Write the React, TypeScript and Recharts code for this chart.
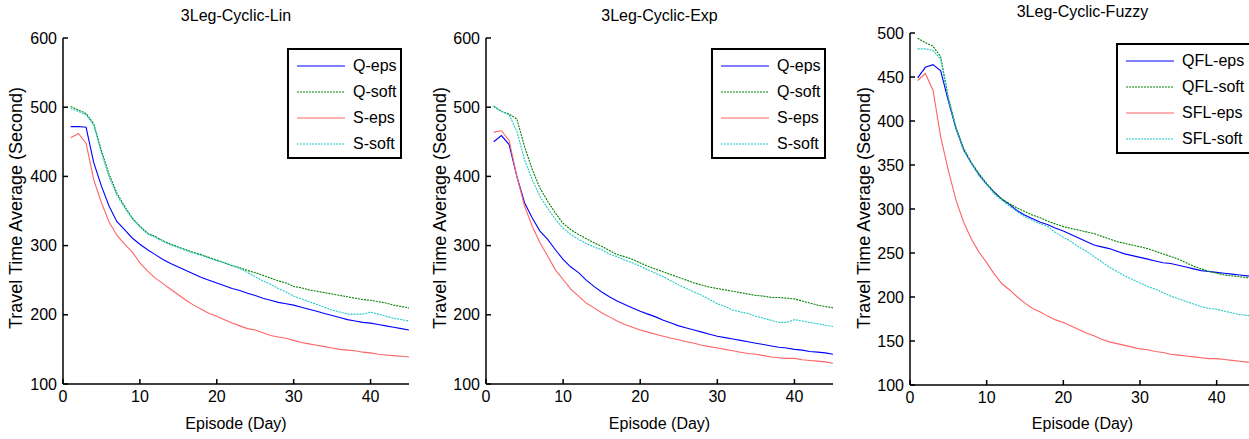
import React from 'react';
import { LineChart, Line, XAxis, YAxis, Legend } from 'recharts';

const FONT = '"Liberation Sans", Arial, Helvetica, sans-serif';

const episodes = [
  1, 2, 3, 4, 5, 6, 7, 8, 9, 10, 11, 12, 13, 14, 15, 16, 17, 18, 19, 20, 21, 22, 23,
  24, 25, 26, 27, 28, 29, 30, 31, 32, 33, 34, 35, 36, 37, 38, 39, 40, 41, 42, 43, 44, 45,
];

// 3Leg-Cyclic-Lin
const linQEps = [
  472, 472, 471, 420, 386, 357, 335, 323, 311, 302, 294, 287, 280, 274, 269, 264, 259, 254, 250, 246,
  242, 238, 235, 231, 228, 224, 221, 218, 216, 214, 211, 208, 205, 202, 199, 196, 193, 191, 189, 188,
  186, 184, 182, 180, 178,
];
const linQSoft = [
  501, 496, 491, 476, 437, 403, 376, 357, 340, 328, 318, 313, 307, 302, 298, 294, 290, 287, 283, 279,
  275, 271, 268, 264, 261, 257, 253, 249, 246, 241, 239, 236, 234, 232, 230, 228, 226, 224, 222, 221,
  219, 217, 214, 212, 210,
];
const linSEps = [
  456, 462, 448, 395, 362, 334, 315, 302, 291, 275, 263, 253, 245, 237, 229, 221, 214, 208, 202, 198,
  193, 188, 184, 180, 178, 174, 170, 168, 166, 163, 160, 158, 156, 154, 152, 150, 149, 148, 146, 145,
  143, 142, 141, 140, 139,
];
const linSSoft = [
  498, 494, 489, 474, 434, 399, 373, 355, 339, 327, 317, 312, 306, 301, 297, 293, 289, 286, 282, 278,
  275, 271, 267, 261, 255, 249, 244, 238, 233, 227, 223, 219, 215, 211, 207, 204, 201, 201, 201, 204,
  201, 198, 195, 193, 191,
];

// 3Leg-Cyclic-Exp
const expQEps = [
  450, 459, 446, 400, 362, 340, 321, 309, 294, 280, 269, 261, 250, 241, 233, 226, 220, 215, 210, 205,
  201, 197, 192, 188, 184, 181, 178, 175, 172, 169, 167, 165, 163, 161, 159, 157, 155, 153, 152, 150,
  149, 147, 146, 145, 143,
];
const expQSoft = [
  501, 494, 490, 483, 443, 410, 383, 364, 347, 332, 323, 316, 310, 304, 299, 293, 287, 284, 280, 275,
  270, 266, 262, 258, 254, 250, 246, 243, 240, 238, 236, 234, 232, 230, 228, 227, 225, 225, 224, 223,
  220, 217, 214, 212, 210,
];
const expSEps = [
  464, 466, 452, 400, 357, 328, 304, 285, 265, 251, 237, 227, 217, 210, 203, 197, 191, 186, 182, 178,
  175, 172, 169, 166, 164, 161, 159, 156, 154, 152, 150, 148, 146, 144, 143, 141, 139, 138, 137, 137,
  135, 134, 133, 132, 130,
];
const expSSoft = [
  502, 494, 489, 465, 424, 395, 371, 354, 338, 325, 316, 309, 303, 298, 294, 288, 284, 279, 275, 270,
  265, 260, 255, 249, 243, 238, 233, 228, 222, 216, 212, 207, 204, 202, 198, 195, 192, 189, 189, 193,
  191, 189, 187, 185, 183,
];

// 3Leg-Cyclic-Fuzzy
const fuzQEps = [
  449, 461, 464, 457, 423, 391, 367, 352, 339, 328, 319, 311, 305, 298, 293, 289, 285, 282, 278, 275,
  271, 267, 263, 259, 257, 255, 252, 249, 247, 245, 243, 241, 239, 238, 236, 234, 232, 230, 229, 228,
  227, 226, 225, 224, 223,
];
const fuzQSoft = [
  494, 489, 485, 473, 427, 393, 369, 353, 340, 329, 319, 311, 306, 301, 297, 293, 290, 286, 283, 280,
  278, 276, 274, 272, 269, 266, 263, 261, 259, 257, 255, 252, 249, 246, 243, 239, 235, 232, 229, 227,
  225, 224, 223, 222, 221,
];
const fuzSEps = [
  446, 454, 435, 382, 344, 310, 285, 266, 251, 239, 226, 215, 208, 200, 193, 187, 183, 178, 174, 171,
  167, 163, 159, 156, 152, 149, 147, 145, 143, 141, 140, 138, 137, 135, 134, 133, 132, 131, 130, 130,
  129, 128, 127, 126, 125,
];
const fuzSSoft = [
  482, 482, 480, 470, 425, 392, 367, 352, 338, 328, 317, 310, 303, 297, 291, 287, 283, 280, 273, 268,
  263, 257, 252, 246, 240, 234, 229, 224, 220, 216, 212, 209, 205, 201, 198, 195, 192, 189, 187, 186,
  184, 182, 180, 179, 178,
];

const xTicks = [0, 10, 20, 30, 40];
const yTicks600 = [100, 200, 300, 400, 500, 600];
const yTicks500 = [100, 150, 200, 250, 300, 350, 400, 450, 500];

const linNames = ['Q-eps', 'Q-soft', 'S-eps', 'S-soft'];
const fuzNames = ['QFL-eps', 'QFL-soft', 'SFL-eps', 'SFL-soft'];

// line styles, same order as the names
const styles = [
  { color: '#0000ff', dash: undefined },
  { color: '#008000', dash: '2 1' },
  { color: '#ff6464', dash: undefined },
  { color: '#22c8c8', dash: '2 1' },
];

function buildRows(series: number[][]) {
  return episodes.map((ep, i) => ({
    ep,
    s0: series[0][i],
    s1: series[1][i],
    s2: series[2][i],
    s3: series[3][i],
  }));
}

function BoxLegend(props: any) {
  const { payload } = props;
  return (
    <div
      style={{
        border: '2px solid #000',
        background: '#fff',
        boxSizing: 'border-box',
        height: 111,
        paddingTop: 3,
        fontFamily: FONT,
        fontSize: 16,
      }}
    >
      {(payload || []).map((entry: any, i: number) => (
        <div key={i} style={{ display: 'flex', alignItems: 'center', height: 26 }}>
          <svg width={58} height={10} style={{ flex: 'none' }}>
            <line
              x1={8}
              x2={56}
              y1={5}
              y2={5}
              stroke={entry.color}
              strokeWidth={1.2}
              strokeDasharray={styles[i].dash}
            />
          </svg>
          <span style={{ marginLeft: 6, whiteSpace: 'nowrap', color: '#000' }}>{entry.value}</span>
        </div>
      ))}
    </div>
  );
}

type PanelProps = {
  left: number;
  title: string;
  titleY: number;
  names: string[];
  series: number[][];
  yMax: number;
  yTicks: number[];
  yAxisW: number;
  marginRight: number;
  top: number;
  bottom: number;
  legendLeft: number;
  legendTop: number;
  legendWidth: number;
  yLabelX: number;
};

function Panel(p: PanelProps) {
  const W = 420;
  const H = 439;
  const rows = buildRows(p.series);
  const axisStyle = { stroke: '#000', strokeWidth: 1.5 };
  const plotLeft = p.left + p.yAxisW;
  const plotRight = p.left + W - p.marginRight;
  const cx = (plotLeft + plotRight) / 2;
  return (
    <>
      <div
        style={{
          position: 'absolute',
          left: cx,
          top: p.titleY,
          transform: 'translate(-50%, -50%)',
          fontFamily: FONT,
          fontSize: 16,
          whiteSpace: 'nowrap',
        }}
      >
        {p.title}
      </div>
      <div style={{ position: 'absolute', left: p.left, top: 0 }}>
        <LineChart
          width={W}
          height={H}
          data={rows}
          margin={{ top: p.top, right: p.marginRight, bottom: H - p.bottom - 30, left: 0 }}
        >
          <XAxis
            dataKey="ep"
            type="number"
            domain={[0, 45]}
            ticks={xTicks}
            allowDataOverflow
            height={30}
            axisLine={axisStyle}
            tickLine={axisStyle}
            tickSize={-5}
            tickMargin={12}
            tick={{ fill: '#000', fontSize: 16, fontFamily: FONT }}
          />
          <XAxis
            xAxisId="top"
            orientation="top"
            type="number"
            domain={[0, 45]}
            ticks={xTicks}
            allowDataOverflow
            height={0}
            axisLine={axisStyle}
            tickLine={axisStyle}
            tickSize={-5}
            tick={false}
          />
          <YAxis
            type="number"
            domain={[100, p.yMax]}
            ticks={p.yTicks}
            allowDataOverflow
            width={p.yAxisW}
            axisLine={axisStyle}
            tickLine={axisStyle}
            tickSize={-5}
            tickMargin={11}
            tick={{ fill: '#000', fontSize: 16, fontFamily: FONT }}
          />
          <YAxis
            yAxisId="right"
            orientation="right"
            type="number"
            domain={[100, p.yMax]}
            ticks={p.yTicks}
            allowDataOverflow
            width={0}
            axisLine={axisStyle}
            tickLine={axisStyle}
            tickSize={-5}
            tick={false}
          />
          <Legend
            layout="vertical"
            align="center"
            verticalAlign="middle"
            wrapperStyle={{
              position: 'absolute',
              left: p.legendLeft,
              top: p.legendTop,
              width: p.legendWidth,
              right: 'auto',
              bottom: 'auto',
            }}
            content={<BoxLegend />}
          />
          {p.names.map((name, i) => (
            <Line
              key={name}
              dataKey={'s' + i}
              name={name}
              type="linear"
              stroke={styles[i].color}
              strokeWidth={1.1}
              strokeDasharray={styles[i].dash}
              dot={false}
              activeDot={false}
              isAnimationActive={false}
            />
          ))}
        </LineChart>
      </div>
      <div
        style={{
          position: 'absolute',
          left: cx,
          top: 424,
          transform: 'translate(-50%, -50%)',
          fontFamily: FONT,
          fontSize: 16,
          whiteSpace: 'nowrap',
        }}
      >
        Episode (Day)
      </div>
      <div
        style={{
          position: 'absolute',
          left: p.yLabelX,
          top: 208,
          transform: 'translate(-50%, -50%) rotate(-90deg)',
          fontFamily: FONT,
          fontSize: 18,
          whiteSpace: 'nowrap',
        }}
      >
        Travel Time Average (Second)
      </div>
    </>
  );
}

export default function App() {
  return (
    <div
      style={{
        position: 'fixed',
        left: 0,
        top: 0,
        width: 1249,
        height: 439,
        overflow: 'hidden',
        background: '#fff',
      }}
    >
      <Panel
        left={0}
        title="3Leg-Cyclic-Lin"
        titleY={16}
        names={linNames}
        series={[linQEps, linQSoft, linSEps, linSSoft]}
        yMax={600}
        yTicks={yTicks600}
        yAxisW={63}
        marginRight={11}
        top={38}
        bottom={384}
        legendLeft={287}
        legendTop={48}
        legendWidth={115}
        yLabelX={16}
      />
      <Panel
        left={420}
        title="3Leg-Cyclic-Exp"
        titleY={16}
        names={linNames}
        series={[expQEps, expQSoft, expSEps, expSSoft]}
        yMax={600}
        yTicks={yTicks600}
        yAxisW={66}
        marginRight={7}
        top={38}
        bottom={384}
        legendLeft={291}
        legendTop={48}
        legendWidth={115}
        yLabelX={440}
      />
      <Panel
        left={840}
        title="3Leg-Cyclic-Fuzzy"
        titleY={12}
        names={fuzNames}
        series={[fuzQEps, fuzQSoft, fuzSEps, fuzSSoft]}
        yMax={500}
        yTicks={yTicks500}
        yAxisW={70}
        marginRight={5}
        top={33}
        bottom={385}
        legendLeft={276}
        legendTop={43}
        legendWidth={145}
        yLabelX={864}
      />
    </div>
  );
}
